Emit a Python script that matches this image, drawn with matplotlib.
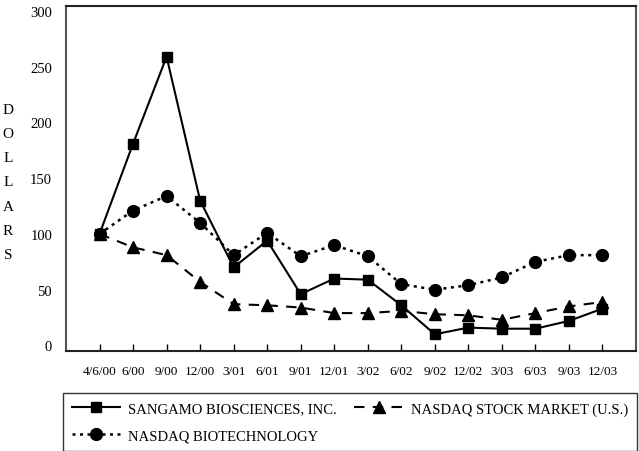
import matplotlib
matplotlib.use("Agg")
import matplotlib.pyplot as plt

categories = ["4/6/00", "6/00", "9/00", "12/00", "3/01", "6/01", "9/01", "12/01",
              "3/02", "6/02", "9/02", "12/02", "3/03", "6/03", "9/03", "12/03"]
sangamo = [100, 181, 259, 130, 70, 94, 46, 60, 59, 36, 10, 16, 15, 15, 22, 33]
nasdaq_market = [100, 88, 81, 57, 37, 36, 34, 29, 29, 31, 28, 27, 23, 29, 35, 39]
nasdaq_biotech = [100, 121, 134, 110, 81, 101, 80, 90, 80, 55, 50, 54, 61, 75, 81, 81]
yticks = [0, 50, 100, 150, 200, 250, 300]

plt.rcParams['font.family'] = ['Liberation Serif', 'DejaVu Serif']

fig = plt.figure(figsize=(6.39, 4.52), dpi=100)
ax = fig.add_axes([66/639, 1-352/452, 570/639, 345/452])

x = list(range(len(categories)))
l1, = ax.plot(x, sangamo, color='black', lw=1.5, ls='-', marker='s', ms=7,
              label='SANGAMO BIOSCIENCES, INC.')
l2, = ax.plot(x, nasdaq_market, color='black', lw=1.5, ls=(0, (5, 4)), marker='^', ms=8,
              label='NASDAQ STOCK MARKET (U.S.)')
l3, = ax.plot(x, nasdaq_biotech, color='black', lw=1.8, ls=(0, (1.2, 1.8)), marker='o', ms=8.5,
              label='NASDAQ BIOTECHNOLOGY')

ax.set_xlim(-1, 16)
ax.set_ylim(-5, 304.5)
ax.set_xticks(x)
ax.set_xticklabels(categories, fontsize=9.5)
ax.tick_params(axis='x', direction='in', length=5, width=1, pad=10)
ax.set_yticks(yticks)
ax.set_yticklabels([str(v) for v in yticks], fontsize=10.5)
ax.tick_params(axis='y', length=0, pad=10)
for s in ax.spines.values():
    s.set_linewidth(1.5)
    s.set_color('#222222')
ax.spines['left'].set_color('#555555')
ax.spines['right'].set_color('#555555')

for i, ch in enumerate("DOLLARS"):
    fig.text(8/639, 1-(110 + i*24.3)/452, ch, fontsize=11, ha='center', va='center')

leg = fig.legend(handles=[l1, l3, l2], ncol=2, loc='upper left',
                 bbox_to_anchor=(63/639, 1-394/452),
                 fontsize=10.5, frameon=True, fancybox=False, edgecolor='black',
                 handlelength=3.3, borderaxespad=0, labelspacing=0.95,
                 columnspacing=1.2, handletextpad=0.55, borderpad=0.62)
leg.get_frame().set_linewidth(1.0)

fig.savefig("out.png", dpi=100)
